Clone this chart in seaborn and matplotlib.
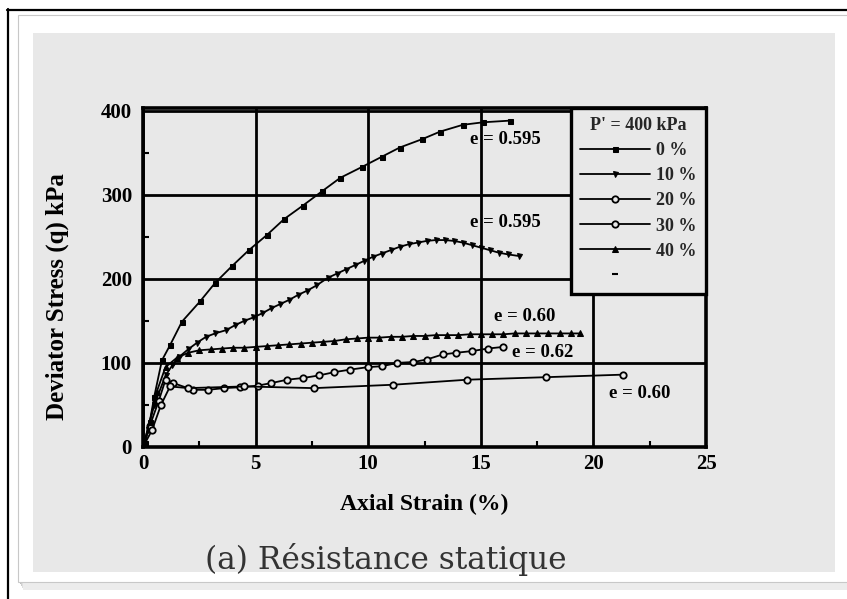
import matplotlib
matplotlib.use("Agg")
import matplotlib.pyplot as plt
import seaborn as sns
import pandas as pd
from matplotlib.patches import Rectangle
from matplotlib.lines import Line2D

# ---------------- data ----------------
x0 = [0, 0.1, 0.3, 0.5, 0.84, 1.2, 1.73, 2.53, 3.2, 3.95, 4.7, 5.5, 6.27, 7.1, 7.95,
      8.76, 9.73, 10.6, 11.4, 12.4, 13.2, 14.2, 15.1, 16.3]
q0 = [0, 5, 30, 60, 103, 121, 149, 173, 195, 215, 234, 252, 271, 287, 304,
      320, 333, 345, 356, 366, 375, 383, 386, 388]

x10 = [0, 0.2, 0.5, 1.0, 1.3, 1.6, 2.0, 2.4, 2.8, 3.2, 3.7, 4.1, 4.5, 4.9, 5.3, 5.7,
       6.1, 6.5, 6.9, 7.3, 7.7, 8.2, 8.6, 9.0, 9.4, 9.8, 10.2, 10.6, 11.0, 11.4, 11.8,
       12.2, 12.6, 13.0, 13.4, 13.8, 14.2, 14.6, 15.0, 15.4, 15.8, 16.2, 16.7]
q10 = [0, 20, 50, 85, 97, 107, 116, 124, 131, 135, 139, 145, 150, 154, 159, 165,
       170, 175, 181, 186, 192, 201, 206, 211, 216, 221, 226, 230, 234, 238, 241,
       243, 245, 246, 246, 245, 243, 240, 237, 234, 231, 229, 227]

x20 = [0, 0.3, 0.7, 1.0, 1.35, 2.2, 2.9, 3.6, 4.3, 5.1, 5.7, 6.4, 7.1, 7.8, 8.5, 9.2,
       10.0, 10.6, 11.3, 12.0, 12.6, 13.3, 13.9, 14.6, 15.3, 16.0]
q20 = [0, 25, 55, 80, 76, 68, 68, 70, 71, 73, 76, 80, 82, 85, 89, 92,
       95, 96, 100, 101, 104, 110, 112, 114, 117, 119]

x30 = [0, 0.4, 0.8, 1.2, 2.0, 4.5, 7.6, 11.1, 14.4, 17.9, 21.3]
q30 = [0, 20, 50, 72, 70, 72, 70, 74, 80, 83, 86]

x40 = [0, 0.3, 0.6, 1.0, 1.5, 2.0, 2.5, 3.0, 3.5, 4.0, 4.5, 5.0, 5.5, 6.0, 6.5, 7.0,
       7.5, 8.0, 8.5, 9.0, 9.5, 10.0, 10.5, 11.0, 11.5, 12.0, 12.5, 13.0, 13.5, 14.0,
       14.5, 15.0, 15.5, 16.0, 16.5, 17.0, 17.5, 18.0, 18.5, 19.0, 19.4]
q40 = [0, 30, 65, 95, 106, 112, 115, 116, 117, 118, 118, 119, 120, 121, 122, 123,
       124, 125, 126, 128, 129, 130, 130, 131, 131, 132, 132, 133, 133, 133,
       134, 134, 134, 134, 135, 135, 135, 135, 135, 135, 135]

series_labels = ["0 %", "10 %", "20 %", "30 %", "40 %"]
legend_title = "P' = 400 kPa"
e_labels = ["e = 0.595", "e = 0.595", "e = 0.60", "e = 0.62", "e = 0.60"]
e_pos = [(14.5, 366), (14.5, 267), (15.6, 155), (16.4, 112), (20.7, 64)]
x_ticks = [0, 5, 10, 15, 20, 25]
y_ticks = [0, 100, 200, 300, 400]
x_label = "Axial Strain (%)"
y_label = "Deviator Stress (q) kPa"
caption = "(a) Résistance statique"

# ---------------- figure ----------------
sns.set_theme(style="white")
plt.rcParams["font.family"] = ["Liberation Serif", "DejaVu Serif"]

W, H = 847, 599
fig = plt.figure(figsize=(W / 100, H / 100), dpi=100)
fig.patch.set_facecolor("white")

def fx(px):
    return px / W

def fy(py):
    return 1 - py / H

PANEL = "#e8e8e8"

# decorations: screenshot frame, card with shadow, grey panel
for i, c in enumerate(["#bdbdbd", "#cfcfcf", "#dedede", "#ececec"]):
    fig.patches.append(Rectangle((fx(20 + i), fy(584 + 2 * i)), fx(900), (584 + 2 * i - 15) / H,
                                 transform=fig.transFigure, facecolor=c, edgecolor="none", zorder=0))
fig.patches.append(Rectangle((fx(18), fy(582)), fx(900), (582 - 15) / H, transform=fig.transFigure,
                             facecolor="white", edgecolor="#c8c8c8", linewidth=0.8, zorder=0.5))
fig.patches.append(Rectangle((fx(33), fy(572)), (835 - 33) / W, (572 - 33) / H,
                             transform=fig.transFigure, facecolor=PANEL, edgecolor="none", zorder=0.6))
fig.lines.append(Line2D([fx(7.5), fx(7.5)], [fy(9), 0], transform=fig.transFigure,
                        color="black", linewidth=1.6, zorder=1))
fig.lines.append(Line2D([fx(7), 1], [fy(9.5), fy(9.5)], transform=fig.transFigure,
                        color="black", linewidth=1.6, zorder=1))

ax = fig.add_axes([fx(143), fy(447), (706 - 143) / W, (447 - 108) / H])
ax.set_facecolor(PANEL)
ax.set_zorder(2)

lw = 1.3
sns.lineplot(x=x0, y=q0, ax=ax, color="black", linewidth=lw, marker="s", markersize=3.6,
             markerfacecolor="black", markeredgecolor="black", label=series_labels[0],
             sort=False, estimator=None)
sns.lineplot(x=x10, y=q10, ax=ax, color="black", linewidth=lw, marker="v", markersize=3.6,
             markerfacecolor="black", markeredgecolor="black", label=series_labels[1],
             sort=False, estimator=None)
sns.lineplot(x=x20, y=q20, ax=ax, color="black", linewidth=lw, marker="o", markersize=4.6,
             markerfacecolor=PANEL, markeredgecolor="black", markeredgewidth=1.3,
             label=series_labels[2], sort=False, estimator=None)
sns.lineplot(x=x30, y=q30, ax=ax, color="black", linewidth=lw, marker="o", markersize=4.6,
             markerfacecolor=PANEL, markeredgecolor="black", markeredgewidth=1.3,
             label=series_labels[3], sort=False, estimator=None)
sns.lineplot(x=x40, y=q40, ax=ax, color="black", linewidth=lw, marker="^", markersize=4.0,
             markerfacecolor="black", markeredgecolor="black", label=series_labels[4],
             sort=False, estimator=None)

ax.set_xlim(0, 25)
ax.set_ylim(0, 403)
ax.set_xticks(x_ticks)
ax.set_yticks(y_ticks)
ax.set_xticks([2.5, 7.5, 12.5, 17.5, 22.5], minor=True)
ax.set_yticks([50, 150, 250, 350], minor=True)
ax.tick_params(axis="both", which="major", length=0, labelsize=15, colors="black")
ax.tick_params(axis="x", which="major", pad=5)
ax.tick_params(axis="y", which="major", pad=8)
ax.tick_params(axis="both", which="minor", direction="in", length=4, width=1.5, color="black",
               bottom=True, left=True)
for lab in ax.get_xticklabels() + ax.get_yticklabels():
    lab.set_fontweight("bold")

ax.grid(True, which="major", color="black", linewidth=2.0)
ax.set_axisbelow(True)
for s in ax.spines.values():
    s.set_color("black")
    s.set_linewidth(2.6)
    s.set_visible(True)

ax.set_xlabel(x_label, fontsize=17, fontweight="bold", color="black")
ax.set_ylabel(y_label, fontsize=18, fontweight="bold", color="black")
ax.xaxis.set_label_coords(0.50, -0.139)
ax.yaxis.set_label_coords(-0.132, 0.445)

for t, (xx, yy) in zip(e_labels, e_pos):
    ax.text(xx, yy, t, fontsize=13.5, fontweight="bold", color="black", va="center", ha="left",
            zorder=5)

handles, labels = ax.get_legend_handles_labels()
handles = handles + [Line2D([], [], linestyle="none", marker="_", markersize=4,
                            color="black", markeredgewidth=1.5)]
labels = labels + [" "]
leg = ax.legend(handles, labels, title=legend_title, loc="upper right",
                bbox_to_anchor=(1.0, 1.0), borderaxespad=0, frameon=True, fancybox=False,
                framealpha=1, facecolor=PANEL, edgecolor="black",
                prop={"family": "Liberation Serif", "weight": "bold", "size": 13},
                title_fontproperties={"family": "Liberation Serif", "weight": "bold", "size": 13},
                handlelength=3.9, handletextpad=0.35, labelspacing=0.45, borderpad=0.5)
leg.get_frame().set_linewidth(2.4)
leg.set_zorder(6)

fig.text(fx(386), fy(560), caption, fontsize=22.5, color="#333333", ha="center", va="center",
         family=["DejaVu Serif"])

fig.savefig("out.png", dpi=100, facecolor="white")
